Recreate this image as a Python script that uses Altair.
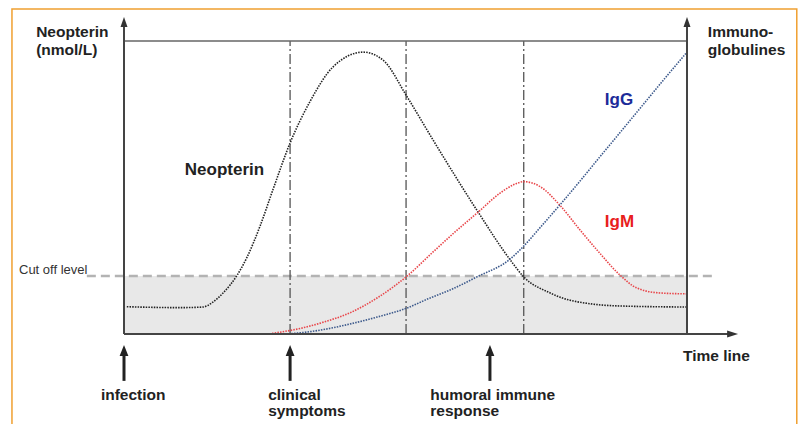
import altair as alt
import pandas as pd

# ---------------- data ----------------
# time: 0 = infection (left edge of box), 100 = right edge of box
# level: 0 = bottom of box, 100 = top of box
neopterin_t = [0.5, 9.9, 14.0, 15.8, 17.6, 20.1, 21.8, 24.2, 26.5, 29.5, 33.0, 37.1, 42.5,
               46.0, 50.3, 54.9, 62.9, 68.6, 71.0, 75.7, 77.4, 83.3, 87.6, 100.0]
neopterin_v = [9.3, 9.0, 9.2, 10.9, 14.0, 20.1, 26.0, 37.0, 49.5, 65.2, 79.2, 91.1, 96.2,
               93.5, 80.9, 66.2, 41.6, 25.3, 19.5, 14.0, 12.6, 10.2, 9.6, 9.2]

igm_t = [26.3, 31.3, 35.7, 40.1, 45.2, 50.3, 54.9, 58.9, 62.9, 66.8, 69.5, 71.0, 74.0,
         77.4, 81.0, 84.5, 88.1, 91.1, 95.2, 100.0]
igm_v = [0.2, 1.9, 4.2, 7.2, 12.6, 19.8, 28.0, 35.0, 41.6, 48.1, 51.2, 52.0, 50.2,
         44.0, 35.5, 27.6, 20.1, 15.7, 14.0, 13.7]

igg_t = [28.3, 31.3, 35.7, 40.1, 45.0, 50.3, 54.0, 57.9, 62.7, 68.6, 71.0, 73.9, 77.4,
         81.0, 84.5, 88.0, 92.0, 96.0, 100.0]
igg_v = [0.0, 0.4, 1.6, 3.4, 5.8, 8.9, 12.0, 15.0, 19.5, 25.6, 30.0, 36.3, 44.0,
         52.2, 60.4, 68.5, 77.8, 87.1, 96.2]

cutoff_level = 19.8
phase_times = [29.5, 50.1, 71.0]          # dash-dot verticals
event_times = [0.0, 29.5, 65.0]           # arrows below the time line

label_text = ["Neopterin", "(nmol/L)", "Immuno-", "globulines", "Time line",
              "infection", "clinical", "symptoms", "humoral immune", "response"]
label_x = [-15.6, -15.6, 103.7, 103.7, 99.3, -4.1, 25.6, 25.6, 54.4, 54.4]
label_y = [101.3, 95.2, 101.5, 95.2, -9.1, -22.5, -22.5, -27.9, -22.5, -27.9]

curve_label_text = ["Neopterin", "IgG", "IgM"]
curve_label_x = [10.8, 85.4, 85.4]
curve_label_y = [54.3, 78.2, 36.4]
curve_label_color = ["#222222", "#1c2b99", "#e8201c"]

# ---------------- scales ----------------
X_DOMAIN = [-20.604, 119.716]
Y_DOMAIN = [-30.717, 111.263]
xs = alt.Scale(domain=X_DOMAIN, nice=False, zero=False)
ys = alt.Scale(domain=Y_DOMAIN, nice=False, zero=False)


def X(f="x"):
    return alt.X(f + ":Q", scale=xs, axis=None)


def Y(f="y"):
    return alt.Y(f + ":Q", scale=ys, axis=None)


layers = []

# orange outer frame
layers.append(
    alt.Chart(pd.DataFrame({"x": [-19.9], "x2": [119.5], "y": [110.9], "y2": [-40.0]}))
    .mark_rect(fillOpacity=0, stroke="#f0a030", strokeWidth=1.5)
    .encode(x=X(), x2="x2:Q", y=Y(), y2="y2:Q")
)

# grey zone below cut off
layers.append(
    alt.Chart(pd.DataFrame({"x": [0.0], "x2": [100.0], "y": [0.0], "y2": [cutoff_level]}))
    .mark_rect(color="#e8e8e8")
    .encode(x=X(), x2="x2:Q", y=Y(), y2="y2:Q")
)

# cut off dashed line
layers.append(
    alt.Chart(pd.DataFrame({"x": [-6.6], "x2": [104.6], "y": [cutoff_level]}))
    .mark_rule(color="#b3b3b3", strokeWidth=2.5, strokeDash=[9, 5])
    .encode(x=X(), x2="x2:Q", y=Y())
)

# dash-dot phase lines
layers.append(
    alt.Chart(pd.DataFrame({"x": phase_times, "y": [0.0] * 3, "y2": [100.0] * 3}))
    .mark_rule(color="#555555", strokeWidth=1.3, strokeDash=[10, 3, 2, 3])
    .encode(x=X(), y=Y(), y2="y2:Q")
)

# curves
for t, v, col in [(neopterin_t, neopterin_v, "#222222"),
                  (igm_t, igm_v, "#e8464a"),
                  (igg_t, igg_v, "#3d5a8c")]:
    layers.append(
        alt.Chart(pd.DataFrame({"x": t, "y": v}))
        .mark_line(color=col, strokeWidth=1.6, strokeDash=[1.5, 1.2], interpolate="monotone")
        .encode(x=X(), y=Y())
    )

# box / axes
layers.append(
    alt.Chart(pd.DataFrame({"x": [0.0], "x2": [100.0], "y": [100.0]}))
    .mark_rule(color="#666666", strokeWidth=1.5)
    .encode(x=X(), x2="x2:Q", y=Y())
)
layers.append(
    alt.Chart(pd.DataFrame({"x": [0.0, 100.0], "y": [0.0, 0.0], "y2": [106.5, 106.5]}))
    .mark_rule(color="#444444", strokeWidth=2)
    .encode(x=X(), y=Y(), y2="y2:Q")
)
layers.append(
    alt.Chart(pd.DataFrame({"x": [0.0], "x2": [108.0], "y": [0.0]}))
    .mark_rule(color="#444444", strokeWidth=2.2)
    .encode(x=X(), x2="x2:Q", y=Y())
)
# arrow heads of axes
layers.append(
    alt.Chart(pd.DataFrame({"x": [0.0, 100.0], "y": [106.5, 106.5]}))
    .mark_point(shape="M0,-1L0.7,1L-0.7,1Z", size=100, filled=True, opacity=1, color="#333333")
    .encode(x=X(), y=Y())
)
layers.append(
    alt.Chart(pd.DataFrame({"x": [108.1], "y": [0.0]}))
    .mark_point(shape="M1,0L-1,-0.65L-1,0.65Z", size=121, filled=True, opacity=1, color="#333333")
    .encode(x=X(), y=Y())
)

# event arrows
layers.append(
    alt.Chart(pd.DataFrame({"x": event_times, "y": [-5.6] * 3, "y2": [-16.0] * 3}))
    .mark_rule(color="#222222", strokeWidth=3)
    .encode(x=X(), y=Y(), y2="y2:Q")
)
layers.append(
    alt.Chart(pd.DataFrame({"x": event_times, "y": [-5.6] * 3}))
    .mark_point(shape="M0,-1L0.8,1L-0.8,1Z", size=121, filled=True, opacity=1, color="#222222")
    .encode(x=X(), y=Y())
)

# texts
layers.append(
    alt.Chart(pd.DataFrame({"x": label_x, "y": label_y, "t": label_text}))
    .mark_text(align="left", baseline="alphabetic", font="Liberation Sans", fontWeight="bold",
               fontSize=15.5, color="#222222")
    .encode(x=X(), y=Y(), text="t:N")
)
layers.append(
    alt.Chart(pd.DataFrame({"x": [-18.65], "y": [20.4], "t": ["Cut off level"]}))
    .mark_text(align="left", baseline="alphabetic", font="Liberation Sans",
               fontSize=13, color="#333333")
    .encode(x=X(), y=Y(), text="t:N")
)
layers.append(
    alt.Chart(pd.DataFrame({"x": curve_label_x, "y": curve_label_y, "t": curve_label_text,
                            "c": curve_label_color}))
    .mark_text(align="left", baseline="alphabetic", font="Liberation Sans", fontWeight="bold",
               fontSize=17)
    .encode(x=X(), y=Y(), text="t:N", color=alt.Color("c:N", scale=None))
)

chart = (
    alt.layer(*layers)
    .properties(width=790, height=416, autosize=alt.AutoSizeParams(type="none"), padding=0)
    .configure_view(stroke=None)
)

chart.save("out.html", embed_options={"renderer": "svg", "actions": False})
